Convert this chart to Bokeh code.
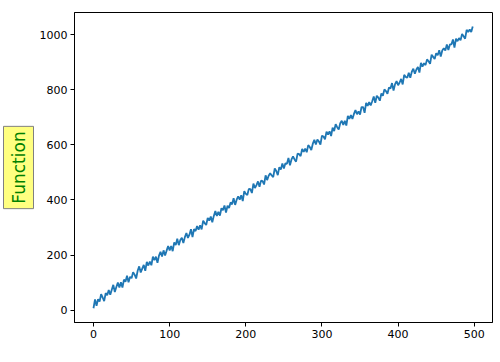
import math
from bokeh.plotting import figure
from bokeh.models import Range1d, Title, FixedTicker
from bokeh.embed import file_html
from bokeh.resources import INLINE

x_values = list(range(0, 500, 2))
y_values = [
    7, 39, 16, 40, 31, 58, 46, 33, 62, 54,
    73, 56, 74, 92, 66, 84, 100, 82, 101, 82,
    111, 103, 125, 101, 121, 116, 138, 129, 115, 143,
    159, 137, 151, 164, 143, 175, 162, 176, 163, 194,
    182, 194, 172, 198, 212, 195, 217, 198, 216, 233,
    217, 233, 214, 246, 236, 259, 236, 255, 263, 244,
    265, 280, 262, 274, 294, 265, 294, 287, 305, 292,
    308, 293, 325, 316, 309, 335, 325, 340, 319, 342,
    360, 342, 357, 343, 370, 363, 380, 354, 379, 371,
    391, 384, 406, 382, 401, 413, 401, 417, 396, 432,
    422, 418, 440, 439, 425, 459, 443, 454, 467, 448,
    470, 468, 456, 489, 472, 488, 497, 489, 483, 514,
    505, 490, 519, 510, 532, 514, 533, 531, 552, 526,
    547, 558, 547, 539, 568, 566, 559, 585, 574, 586,
    573, 599, 592, 581, 604, 618, 601, 619, 612, 601,
    633, 630, 620, 648, 637, 649, 632, 662, 650, 675,
    664, 655, 678, 687, 672, 687, 670, 705, 694, 708,
    694, 712, 726, 711, 721, 710, 737, 737, 716, 752,
    741, 755, 743, 758, 775, 752, 778, 771, 760, 786,
    778, 801, 795, 785, 808, 804, 824, 797, 820, 831,
    816, 826, 839, 819, 854, 846, 843, 861, 843, 865,
    876, 858, 873, 882, 862, 897, 884, 896, 889, 910,
    903, 894, 927, 919, 911, 932, 925, 943, 920, 942,
    950, 942, 964, 944, 964, 964, 982, 953, 985, 976,
    987, 979, 1002, 994, 985, 1017, 1009, 1019, 1009, 1029,
]
x_ticks = [0, 100, 200, 300, 400, 500]
y_ticks = [0, 200, 400, 600, 800, 1000]
label_text = "Function"

p = figure(width=500, height=362, output_backend="svg", toolbar_location=None,
           x_range=Range1d(-24.95, 523.95), y_range=Range1d(-44.7, 1080),
           min_border_left=73, min_border_right=8, min_border_top=12, min_border_bottom=40)
p.line(x_values, y_values, line_color="#1f77b4", line_width=1.8)

p.xgrid.visible = False
p.ygrid.visible = False
p.outline_line_color = "black"
p.outline_line_width = 1
p.background_fill_color = "white"
p.border_fill_color = "white"

for ax in (p.xaxis[0], p.yaxis[0]):
    ax.axis_line_color = "black"
    ax.axis_line_width = 1
    ax.major_tick_line_color = "black"
    ax.major_tick_in = 0
    ax.major_tick_out = 4
    ax.minor_tick_line_color = None
    ax.major_label_text_font = "DejaVu Sans"
    ax.major_label_text_font_size = "11px"
    ax.major_label_text_color = "black"
    ax.major_label_standoff = 3
p.xaxis[0].ticker = FixedTicker(ticks=x_ticks)
p.yaxis[0].ticker = FixedTicker(ticks=y_ticks)

t = Title(text=label_text, align="center", vertical_align="middle",
          text_font="DejaVu Sans", text_font_size="17px", text_font_style="normal",
          text_color="green",
          background_fill_color="#ffff80", background_fill_alpha=1.0,
          border_line_color="#808080", border_line_width=1,
          padding=5, standoff=4)
p.add_layout(t, "left")

open("out.html", "w").write(file_html(p, INLINE))
